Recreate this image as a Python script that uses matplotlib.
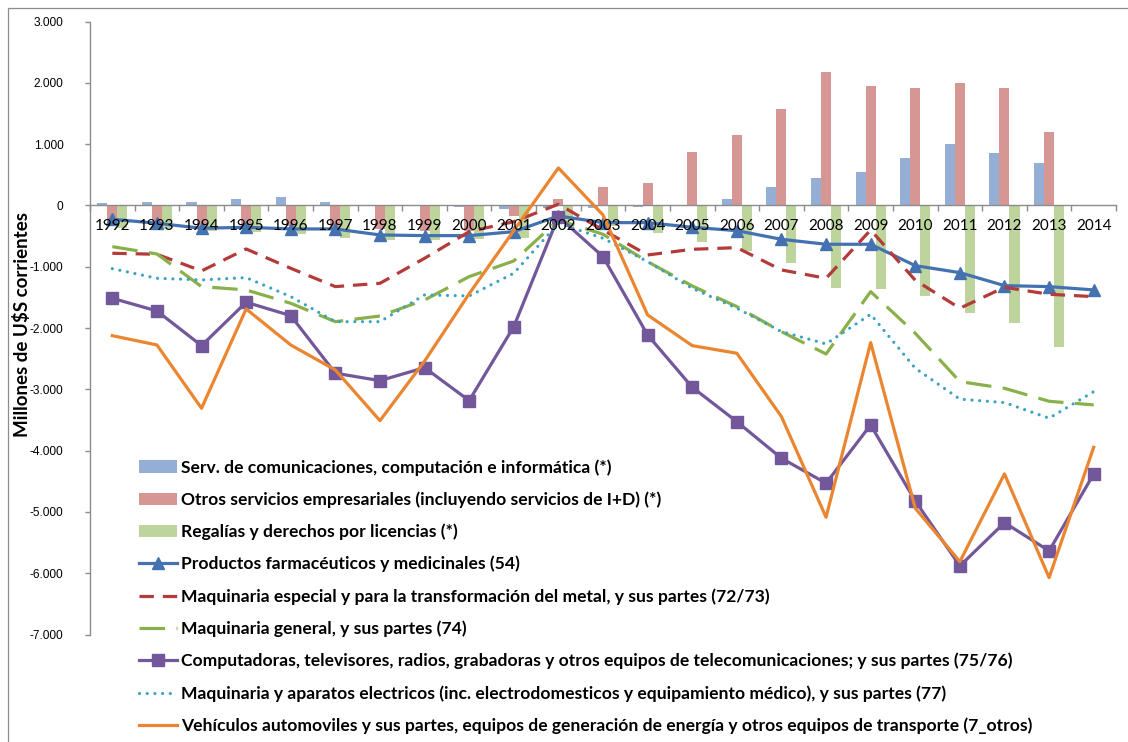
import numpy as np
import matplotlib
matplotlib.use("Agg")
import matplotlib.pyplot as plt
from matplotlib.ticker import FuncFormatter, FixedLocator, NullFormatter
from matplotlib.patches import Rectangle

plt.rcParams['font.family'] = ['Lato', 'DejaVu Sans']

# ---- data (millones de US$ corrientes) ----
years = [str(y) for y in range(1992, 2015)]

serv_comp = [41, 52, 52, 106, 144, 52, 5, 12, -20, -57, -45, -35, -25, -8,
             110, 295, 443, 541, 781, 995, 858, 689, np.nan]
otros_serv = [-300, -320, -370, -330, -340, -360, -390, -420, -410, -171, 100,
              306, 366, 880, 1148, 1568, 2180, 1945, 1918, 2000, 1913, 1197, np.nan]
regalias = [-360, -380, -420, -430, -470, -525, -563, -563, -546, -525, -260,
            -340, -454, -601, -737, -933, -1351, -1362, -1471, -1759, -1912, -2303, np.nan]

farmac = [-225, -290, -372, -356, -383, -383, -481, -492, -492, -427, -171,
          -280, -280, -356, -411, -552, -633, -633, -982, -1096, -1308, -1324, -1378]
maq_especial = [-780, -796, -1068, -710, -1025, -1324, -1270, -862, -427, -264, 20,
                -400, -808, -715, -688, -1052, -1188, -400, -1220, -1677, -1335, -1449, -1487]
maq_general = [-672, -791, -1324, -1378, -1596, -1896, -1803, -1542, -1161, -905, -237,
               -470, -917, -1313, -1650, -2059, -2423, -1406, -2085, -2874, -2983, -3195, -3254]
computadoras = [-1514, -1721, -2287, -1579, -1797, -2737, -2858, -2646, -3184, -1977, -182,
                -835, -2113, -2966, -3527, -4124, -4532, -3581, -4821, -5881, -5175, -5636, -4380]
maq_electrica = [-1031, -1188, -1215, -1177, -1487, -1896, -1896, -1460, -1476, -1106, -291,
                 -535, -917, -1351, -1677, -2058, -2259, -1775, -2656, -3160, -3216, -3471, -3037]
vehiculos = [-2124, -2276, -3309, -1688, -2276, -2684, -3511, -2540, -1440, -410, 612,
             -155, -1786, -2287, -2411, -3445, -5087, -2238, -4940, -5811, -4380, -6072, -3945]

labels = [
    "Serv. de comunicaciones, computación e informática (*)",
    "Otros servicios empresariales (incluyendo servicios de I+D) (*)",
    "Regalías y derechos por licencias (*)",
    "Productos farmacéuticos y medicinales (54)",
    "Maquinaria especial y para la transformación del metal, y sus partes (72/73)",
    "Maquinaria general, y sus partes (74)",
    "Computadoras, televisores, radios, grabadoras y otros equipos de telecomunicaciones; y sus partes (75/76)",
    "Maquinaria y aparatos electricos (inc. electrodomesticos y equipamiento médico), y sus partes (77)",
    "Vehículos automoviles y sus partes, equipos de generación de energía y otros equipos de transporte (7_otros)",
]

# ---- figure ----
W, H = 1128, 742
fig = plt.figure(figsize=(W / 100, H / 100), dpi=100)
ax = fig.add_axes([90 / W, 1 - 634.5 / H, (1116 - 90) / W, (634.5 - 21.6) / H])

x = np.arange(len(years))
bw = 0.225
h_b1 = ax.bar(x - bw, serv_comp, bw, color='#95AED6', zorder=2)
h_b2 = ax.bar(x, otros_serv, bw, color='#D69694', zorder=2)
h_b3 = ax.bar(x + bw, regalias, bw, color='#BDD49C', zorder=2)

lw = 2.3
h_l1, = ax.plot(x, farmac, color='#4472B0', lw=lw, marker='^', markersize=9, zorder=4)
h_l2, = ax.plot(x, maq_especial, color='#B33B3A', lw=lw, linestyle=(0, (4.5, 2.8)), zorder=5)
h_l3, = ax.plot(x, maq_general, color='#8AB04A', lw=lw, linestyle=(0, (8, 3.6)), zorder=6)
h_l4, = ax.plot(x, computadoras, color='#72579B', lw=lw, marker='s', markersize=8.5, zorder=7)
h_l5, = ax.plot(x, maq_electrica, color='#3BA3C2', lw=lw, linestyle=(0, (0.01, 2.4)),
                dash_capstyle='round', zorder=8)
h_l6, = ax.plot(x, vehiculos, color='#EB8530', lw=lw, zorder=9)

ax.set_xlim(-0.5, len(years) - 0.5)
ax.set_ylim(-7000, 3000)

axis_gray = '#8C8C8C'
for s in ('top', 'right'):
    ax.spines[s].set_visible(False)
ax.spines['left'].set_color(axis_gray)
ax.spines['bottom'].set_color(axis_gray)
ax.spines['bottom'].set_position(('data', 0))
ax.spines['left'].set_linewidth(1.0)
ax.spines['bottom'].set_linewidth(1.0)

# category labels sit on top of the series, as in the spreadsheet layout
ax.xaxis.set_zorder(12)

ax.set_xticks(x)
ax.set_xticklabels(years)
ax.xaxis.set_minor_locator(FixedLocator(np.arange(-0.5, len(years), 1.0)))
ax.xaxis.set_minor_formatter(NullFormatter())
ax.tick_params(axis='x', which='major', length=0, pad=10, labelsize=11, labelcolor='black')
ax.tick_params(axis='x', which='minor', length=4, direction='out', color=axis_gray, width=1)

ax.set_yticks(np.arange(-7000, 3001, 1000))
ax.yaxis.set_major_formatter(FuncFormatter(lambda v, p: f"{int(v):,}".replace(",", ".")))
ax.tick_params(axis='y', length=3.6, direction='out', color=axis_gray, width=1,
               labelsize=8.6, labelcolor='black', pad=15.5)
for t in ax.get_yticklabels():
    t.set_horizontalalignment('right')
    t.set_fontfamily(['Liberation Sans', 'DejaVu Sans'])

fig.text(22 / W, 1 - 324 / H, "Millones de U$S corrientes", rotation=90,
         ha='center', va='center', fontsize=13.5, fontweight='bold')

handles = [h_b1, h_b2, h_b3, h_l1, h_l2, h_l3, h_l4, h_l5, h_l6]
fig.legend(handles, labels, loc='upper left', bbox_to_anchor=(139 / W, 1 - 459 / H),
           frameon=False, prop={'weight': 'bold', 'size': 12.6},
           labelspacing=0.9, handlelength=2.15, handletextpad=0.25,
           borderaxespad=0, borderpad=0)

fig.patches.append(Rectangle((8 / W, -0.02), 1.05, 1 - 8 / H + 0.02,
                             transform=fig.transFigure, fill=False,
                             edgecolor='#8C8C8C', lw=0.9))

fig.savefig("out.png", dpi=100)
